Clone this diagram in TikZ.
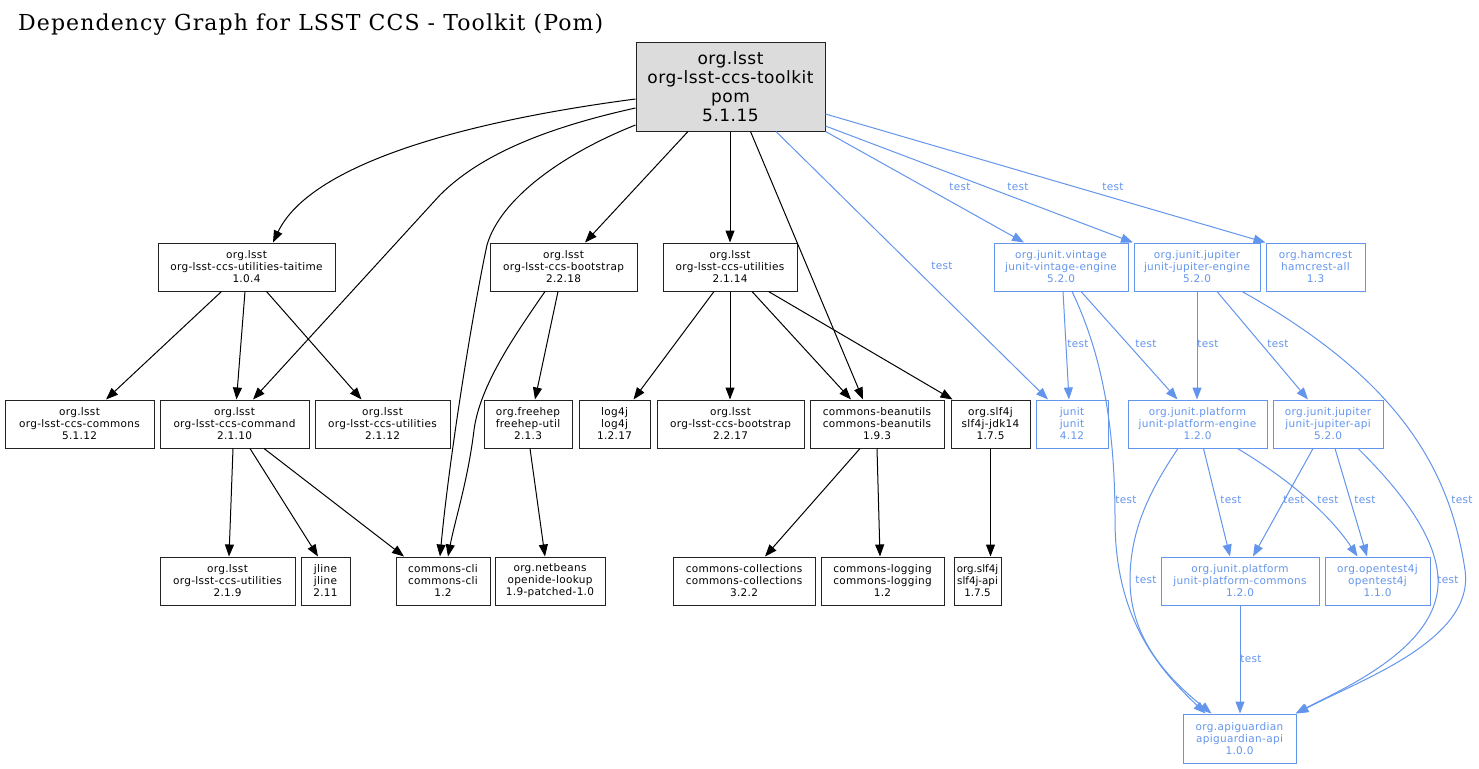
\documentclass[tikz,border=0pt]{standalone}
\usepackage{fontspec}
\setmainfont{DejaVu Sans}
\newfontfamily\nodefont{DejaVu Sans}[LetterSpace=3]
\newfontfamily\rootfont{DejaVu Sans}[LetterSpace=3]
\newfontfamily\titlefont{DejaVu Serif}[LetterSpace=5]
\usetikzlibrary{arrows.meta}
\definecolor{tblue}{HTML}{6495ED}
\definecolor{rootgray}{HTML}{DCDCDC}
\definecolor{boxline}{HTML}{222222}
\begin{document}
\begin{tikzpicture}[x=1pt,y=-1pt,
  box/.style={draw=boxline, line width=1pt, rectangle, inner sep=0pt, minimum height=48pt, align=center,
    font=\nodefont\fontsize{10.5}{12}\selectfont},
  tbox/.style={box, draw=tblue, text=tblue, line width=1pt},
  dep/.style={draw=black, line width=1pt, -{Triangle[length=12pt,width=9pt]}},
  tdep/.style={dep, color=tblue},
  lbl/.style={text=tblue, inner sep=0pt, font=\nodefont\fontsize{10.5}{12}\selectfont}]
\fill[white] (0,0) rectangle (1479,768);
\useasboundingbox (0,0) rectangle (1479,768);
\node[anchor=base west, inner sep=0pt, font=\titlefont\fontsize{22}{26}\selectfont] (title) at (18,31) {Dependency Graph for LSST CCS - Toolkit (Pom)};
% nodes
\node[box, fill=rootgray, minimum width=189pt, minimum height=88pt, font=\rootfont\fontsize{17}{19}\selectfont] (root) at (730.5,87) {org.lsst\\org-lsst-ccs-toolkit\\pom\\5.1.15};
\node[box, minimum width=177pt] (taitime) at (246.5,267) {org.lsst\\org-lsst-ccs-utilities-taitime\\1.0.4};
\node[box, minimum width=147pt] (boot218) at (563.5,267) {org.lsst\\org-lsst-ccs-bootstrap\\2.2.18};
\node[box, minimum width=134pt] (util214) at (730,267) {org.lsst\\org-lsst-ccs-utilities\\2.1.14};
\node[tbox, minimum width=134pt] (vintage) at (1061,267) {org.junit.vintage\\junit-vintage-engine\\5.2.0};
\node[tbox, minimum width=126pt] (jupeng) at (1197,267) {org.junit.jupiter\\junit-jupiter-engine\\5.2.0};
\node[tbox, minimum width=99pt] (hamcrest) at (1315.5,267) {org.hamcrest\\hamcrest-all\\1.3};
\node[box, minimum width=149pt] (commons) at (79.5,424) {org.lsst\\org-lsst-ccs-commons\\5.1.12};
\node[box, minimum width=149pt] (command) at (234.5,424) {org.lsst\\org-lsst-ccs-command\\2.1.10};
\node[box, minimum width=135pt] (util212) at (382.5,424) {org.lsst\\org-lsst-ccs-utilities\\2.1.12};
\node[box, minimum width=88pt] (freehep) at (528,424) {org.freehep\\freehep-util\\2.1.3};
\node[box, minimum width=71pt] (log4j) at (614.5,424) {log4j\\log4j\\1.2.17};
\node[box, minimum width=147pt] (boot217) at (730.5,424) {org.lsst\\org-lsst-ccs-bootstrap\\2.2.17};
\node[box, minimum width=134pt] (beanutils) at (877,424) {commons-beanutils\\commons-beanutils\\1.9.3};
\node[box, minimum width=79pt] (jdk14) at (990.5,424) {org.slf4j\\slf4j-jdk14\\1.7.5};
\node[tbox, minimum width=72pt] (junit) at (1072,424) {junit\\junit\\4.12};
\node[tbox, minimum width=139pt] (pleng) at (1197.5,424) {org.junit.platform\\junit-platform-engine\\1.2.0};
\node[tbox, minimum width=110pt] (jupapi) at (1328,424) {org.junit.jupiter\\junit-jupiter-api\\5.2.0};
\node[box, minimum width=135pt] (util219) at (227.5,581) {org.lsst\\org-lsst-ccs-utilities\\2.1.9};
\node[box, minimum width=49pt] (jline) at (325.5,581) {jline\\jline\\2.11};
\node[box, minimum width=94pt] (cli) at (443,581) {commons-cli\\commons-cli\\1.2};
\node[box, minimum width=110pt] (openide) at (550,581) {org.netbeans\\openide-lookup\\1.9-patched-1.0};
\node[box, minimum width=142pt] (collections) at (744,581) {commons-collections\\commons-collections\\3.2.2};
\node[box, minimum width=123pt] (logging) at (882.5,581) {commons-logging\\commons-logging\\1.2};
\node[box, minimum width=47pt, font=\fontsize{10.3}{12}\selectfont] (slf4japi) at (977.5,581) {org.slf4j\\slf4j-api\\1.7.5};
\node[tbox, minimum width=158pt] (plcommons) at (1240,581) {org.junit.platform\\junit-platform-commons\\1.2.0};
\node[tbox, minimum width=105pt] (opentest) at (1377.5,581) {org.opentest4j\\opentest4j\\1.1.0};
\node[tbox, minimum width=113pt, minimum height=49pt] (api) at (1239.5,738.5) {org.apiguardian\\apiguardian-api\\1.0.0};
% black edges from root
\draw[dep] ([yshift=-12pt]root.west) .. controls (460,122) and (310,165) .. ([xshift=26.5pt]taitime.north);
\draw[dep] ([yshift=-21pt]root.west) .. controls (545,128) and (480,155) .. (440,195) -- ([xshift=18.5pt]command.north);
\draw[dep] ([yshift=-38pt]root.west) .. controls (560,155) and (500,200) .. (487,245) .. controls (475,300) and (450,450) .. ([xshift=-3pt]cli.north);
\draw[dep] ([xshift=-42.5pt]root.south) -- ([xshift=21.5pt]boot218.north);
\draw[dep] (util214.north |- root.south) -- (util214.north);
\draw[dep] ([xshift=20pt]root.south) -- ([xshift=-14pt]beanutils.north);
% blue edges from root
\draw[tdep] ([xshift=45.5pt]root.south) -- node[lbl, pos=0.5, xshift=30pt] (l1) {test} ([xshift=-24pt]junit.north);
\draw[tdep] (root.south east) -- ([xshift=-37pt]vintage.north);
\draw[tdep] ([yshift=-39pt]root.east) -- ([xshift=-64pt]jupeng.north);
\draw[tdep] ([yshift=-27pt]root.east) -- (hamcrest.north west);
\node[lbl] (l2) at (960,187) {test};
\node[lbl] (l3) at (1018,187) {test};
\node[lbl] (l4) at (1113,187) {test};
% taitime
\draw[dep] ([xshift=-25pt]taitime.south) -- ([xshift=26.5pt]commons.north);
\draw[dep] ([xshift=-1.5pt]taitime.south) -- ([xshift=2pt]command.north);
\draw[dep] ([xshift=20pt]taitime.south) -- ([xshift=-21pt]util212.north);
% bootstrap 2.2.18
\draw[dep] ([xshift=-5.5pt]boot218.south) -- ([xshift=7pt]freehep.north);
\draw[dep] ([xshift=-18.5pt]boot218.south) .. controls (515,335) and (480,385) .. (474,430) .. controls (468,480) and (455,520) .. ([xshift=5pt]cli.north);
% utilities 2.1.14
\draw[dep] ([xshift=-16pt]util214.south) -- ([xshift=19pt]log4j.north);
\draw[dep] (util214.south) -- (util214.south |- boot217.north);
\draw[dep] ([xshift=22pt]util214.south) -- ([xshift=-26pt]beanutils.north);
\draw[dep] ([xshift=38.5pt]util214.south) -- ([xshift=2pt]jdk14.north west);
% command
\draw[dep] ([xshift=-1.5pt]command.south) -- ([xshift=1.5pt]util219.north);
\draw[dep] ([xshift=15.5pt]command.south) -- ([xshift=-7.5pt]jline.north);
\draw[dep] ([xshift=29.5pt]command.south) -- ([xshift=-39pt]cli.north);
% others
\draw[dep] ([xshift=2pt]freehep.south) -- ([xshift=-5pt]openide.north);
\draw[dep] ([xshift=-17pt]beanutils.south) -- ([xshift=21pt]collections.north);
\draw[dep] (beanutils.south) -- ([xshift=-2.5pt]logging.north);
\draw[dep] (jdk14.south) -- (jdk14.south |- slf4japi.north);
% blue: vintage
\draw[tdep] ([xshift=2pt]vintage.south) -- ([xshift=-3pt]junit.north);
\node[lbl] (l5) at (1078,344) {test};
\draw[tdep] ([xshift=20pt]vintage.south) -- ([xshift=-20pt]pleng.north);
\node[lbl] (l6) at (1146,344) {test};
\draw[tdep] ([xshift=11pt]vintage.south) .. controls (1100,350) and (1115,420) .. (1115,520) .. controls (1115,620) and (1160,670) .. ([xshift=-34pt]api.north);
\node[lbl] (l7) at (1126,500) {test};
% blue: jupiter engine
\draw[tdep] (jupeng.south) -- (jupeng.south |- pleng.north);
\node[lbl] (l8) at (1208,344) {test};
\draw[tdep] ([xshift=20pt]jupeng.south) -- ([xshift=-20pt]jupapi.north);
\node[lbl] (l9) at (1278,344) {test};
\draw[tdep] ([xshift=45pt]jupeng.south) .. controls (1400,380) and (1450,470) .. (1465,570) .. controls (1475,640) and (1360,680) .. (api.north east);
\node[lbl] (l10) at (1462,500) {test};
% blue: platform engine
\draw[tdep] ([xshift=6pt]pleng.south) -- ([xshift=-10pt]plcommons.north);
\node[lbl] (l11) at (1231,500) {test};
\draw[tdep] ([xshift=40pt]pleng.south) .. controls (1290,480) and (1330,515) .. ([xshift=-20pt]opentest.north);
\node[lbl] (l12) at (1328,500) {test};
\draw[tdep] ([xshift=-19.5pt]pleng.south) .. controls (1150,490) and (1130,530) .. (1130,580) .. controls (1130,640) and (1170,680) .. ([xshift=-28pt]api.north);
\node[lbl] (l13) at (1146,580) {test};
% blue: jupiter api
\draw[tdep] ([xshift=-15pt]jupapi.south) -- ([xshift=13pt]plcommons.north);
\node[lbl] (l14) at (1294,500) {test};
\draw[tdep] ([xshift=7pt]jupapi.south) -- ([xshift=-10.5pt]opentest.north);
\node[lbl] (l15) at (1365,500) {test};
\draw[tdep] ([xshift=30pt]jupapi.south) .. controls (1400,490) and (1440,540) .. (1438,585) .. controls (1435,650) and (1340,690) .. ([xshift=-1pt]api.north east);
\node[lbl] (l16) at (1448,580) {test};
% platform commons
\draw[tdep] (plcommons.south) -- (plcommons.south |- api.north);
\node[lbl] (l17) at (1251,659) {test};
\end{tikzpicture}
\end{document}
